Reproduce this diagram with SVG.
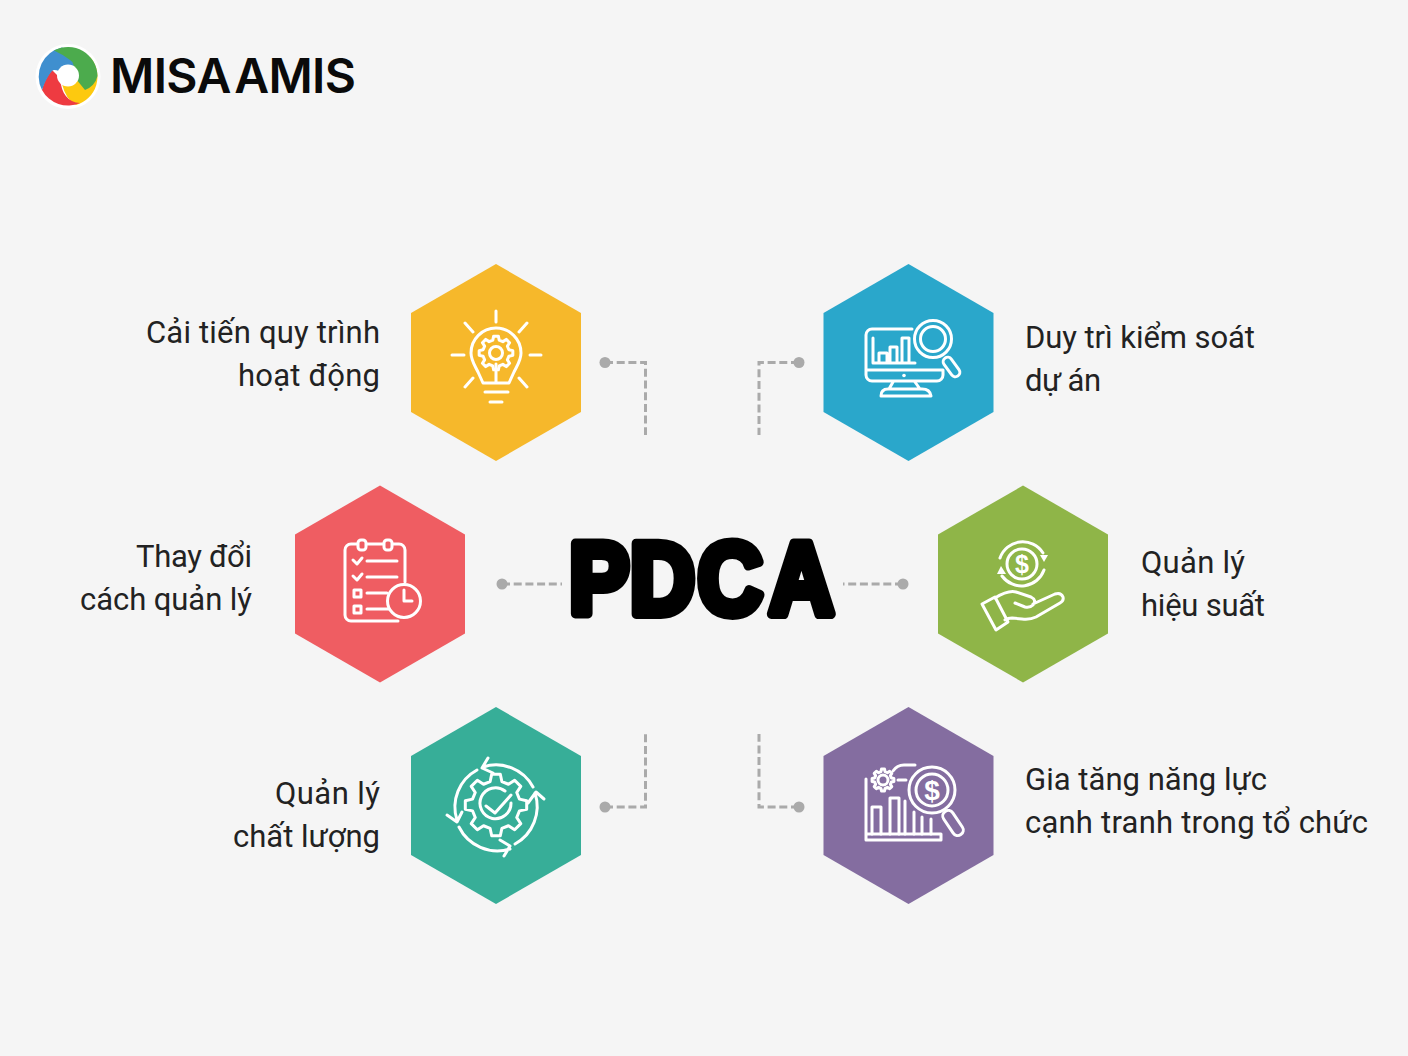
<svg xmlns="http://www.w3.org/2000/svg" width="1408" height="1056" viewBox="0 0 1408 1056">
<style>
.lbl{font-family:"Roboto","Liberation Sans",sans-serif;font-size:31px;fill:#222}
.end{text-anchor:end}
.ic{fill:none;stroke:#fff;stroke-width:3;stroke-linecap:round;stroke-linejoin:round}
.ar{fill:#fff;stroke:none}
.cn{fill:none;stroke:#aaa;stroke-width:3;stroke-dasharray:8 3.7}
.dot{fill:#aaa}
.gear{vector-effect:non-scaling-stroke}
.dollar{font-family:"Liberation Sans",sans-serif;font-weight:700;fill:#fff;text-anchor:middle}
</style>
<defs>
<polygon id="hex" points="0,-98.5 85,-49.5 85,49.5 0,98.5 -85,49.5 -85,-49.5"/>
<path id="gear" class="gear" d="M7.57-1.89L9.9-1.39 9.9 1.39 7.57 1.89 6.69 4.02 7.99 6.02 6.02 7.99 4.02 6.69 1.89 7.57 1.39 9.9-1.39 9.9-1.89 7.57-4.02 6.69-6.02 7.99-7.99 6.02-6.69 4.02-7.57 1.89-9.9 1.39-9.9-1.39-7.57-1.89-6.69-4.02-7.99-6.02-6.02-7.99-4.02-6.69-1.89-7.57-1.39-9.9 1.39-9.9 1.89-7.57 4.02-6.69 6.02-7.99 7.99-6.02 6.69-4.02Z"/>
</defs>
<rect width="1408" height="1056" fill="#f5f5f5"/>

<g id="logo">
<circle cx="68" cy="76.5" r="32.5" fill="#fff"/>
<path fill="#fdc90f" d="M90 57A29.5 29.5 0 0 1 76 105Q66 100 62 84L78 78Q88 70 90 57Z"/>
<path fill="#ee3b41" d="M52 70Q44 80 42 90A29.5 29.5 0 0 0 80 103Q62 102 60 78Z"/>
<path fill="#3f8fcf" d="M42 90A29.5 29.5 0 0 1 62 47.6Q70 50 76 63L66 74Q54 68 52 71Q46 78 42 90Z"/>
<path fill="#4cab4d" d="M54 50.5A29.5 29.5 0 0 1 97.5 76Q95 86 85 90L72 74Q76 63 70 60Q62 54 54 50.5Z"/>
<circle cx="68" cy="75.5" r="11" fill="#fff"/>
<text x="110" y="93" font-family="Inter,'Liberation Sans',sans-serif" font-weight="600" font-size="48" word-spacing="-8" textLength="246" fill="#0a0a0a">MISA AMIS</text>
</g>

<g id="connectors">
<path class="cn" d="M605 362.5H645.5V435"/>
<path class="cn" d="M799 362.5H759V435"/>
<path class="cn" d="M502 584H562"/>
<path class="cn" d="M903 584H843"/>
<path class="cn" d="M605 807H645.5V734"/>
<path class="cn" d="M799 807H759V734"/>
<circle class="dot" cx="605" cy="362.5" r="5.5"/>
<circle class="dot" cx="799" cy="362.5" r="5.5"/>
<circle class="dot" cx="502" cy="584" r="5.5"/>
<circle class="dot" cx="903" cy="584" r="5.5"/>
<circle class="dot" cx="605" cy="807" r="5.5"/>
<circle class="dot" cx="799" cy="807" r="5.5"/>
</g>

<g id="center">
<text transform="scale(.88 1)" y="614" font-family="'Liberation Sans',sans-serif" font-weight="700" font-size="102" fill="#000" stroke="#000" stroke-width="10" stroke-linejoin="round" x="647 716 793 874">PDCA</text>
</g>

<g id="node-improve">
<use href="#hex" x="496" y="362.5" fill="#f6b82b"/>
<g class="ic">
<path d="M496 311V322M452 355H464M530 355H541M465 323L473 332M527 323L519 332M465 387L473 378M527 387L519 378"/>
<path d="M483 383L478 372C474 364 471 360 471 353A25 25 0 0 1 521 353C521 360 518 364 514 372L509 383ZM496 364V383M485 392H508M490 402H502"/>
<use href="#gear" transform="translate(496 353) scale(1.7)"/>
<circle cx="496" cy="353" r="6.5"/>
</g>
<text class="lbl end" x="380" y="343" textLength="234">Cải tiến quy trình</text>
<text class="lbl end" x="380" y="386" textLength="142">hoạt động</text>
</g>

<g id="node-maintain">
<use href="#hex" x="908.5" y="362.5" fill="#2aa7cb"/>
<g class="ic">
<path d="M912 329H872A6 6 0 0 0 866 335V375A6 6 0 0 0 872 381H937A6 6 0 0 0 943 375V370H866"/>
<path d="M873 338V363H915M879 363V353H887V363M890 363V347H897V363M902 363V338H909V363"/>
<path d="M893 382L889 389M915 382L920 389M881 396Q881 389 888 389H922Q930 389 931 396Z"/>
<circle cx="933" cy="339" r="18.5"/><circle cx="933" cy="339" r="12.5"/>
<rect x="-11" y="-4.5" width="22" height="9" rx="4.5" transform="translate(951.5 367) rotate(54)"/>
</g>
<circle cx="904" cy="375.5" r="1.8" fill="#fff"/>
<text class="lbl" x="1025" y="348" textLength="230">Duy trì kiểm soát</text>
<text class="lbl" x="1025" y="391" textLength="76">dự án</text>
</g>

<g id="node-change">
<use href="#hex" x="380" y="584" fill="#ef5d62"/>
<g class="ic">
<path d="M405 582V550A6 6 0 0 0 399 544H351A6 6 0 0 0 345 550V615A6 6 0 0 0 351 621H398"/>
<rect x="358" y="540" width="8" height="10" rx="3" fill="#ef5d62"/>
<rect x="384" y="540" width="8" height="10" rx="3" fill="#ef5d62"/>
<path d="M353 560L357 564L362 558M353 576L357 580L362 574M367 561H397M367 577H397M367 593H387M367 609H390"/>
<rect x="354" y="590" width="7" height="7"/><rect x="354" y="606" width="7" height="7"/>
<circle cx="404" cy="601" r="16.5" fill="#ef5d62"/>
<path d="M404 590V601H412"/>
</g>
<text class="lbl end" x="252" y="567" textLength="116">Thay đổi</text>
<text class="lbl end" x="252" y="610" textLength="172">cách quản lý</text>
</g>

<g id="node-performance">
<use href="#hex" x="1023" y="584" fill="#8fb548"/>
<g class="ic">
<circle cx="1022" cy="564" r="15"/>
<path d="M1000 558A24 24 0 0 1 1043 553M1044 570A24 24 0 0 1 1002 576"/>
<path d="M982 604L995 597L1008 622L996 630Z"/>
<path d="M995 598Q1008 590 1016 592L1031 597Q1037 600 1033 605Q1030 608 1025 607L1015 603M1033 604L1055 594Q1061 592 1063 597Q1064 601 1060 603L1036 617Q1030 620 1022 619L1012 618Q1008 618 1005 620"/>
</g>
<polygon class="ar" points="1040,555 1048,555 1044,562"/>
<polygon class="ar" points="997,574 1006,574 1001,566"/>
<text class="dollar" x="1022" y="573" font-size="25">$</text>
<text class="lbl" x="1141" y="573" textLength="104">Quản lý</text>
<text class="lbl" x="1141" y="616" textLength="124">hiệu suất</text>
</g>

<g id="node-quality">
<use href="#hex" x="496" y="805.5" fill="#37ae98"/>
<g class="ic">
<use href="#gear" transform="translate(496 805) scale(3.1)"/>
<path d="M505 791A15.5 15.5 0 1 0 511 803"/>
<path d="M486 806L495 813L511 795"/>
<path d="M533 787A42 42 0 0 0 483 767M488 758L482 768L493 773"/>
<path d="M477 770A42 42 0 0 0 457 820M447 815L457 822L462 812"/>
<path d="M459 827A43 43 0 0 0 510 849M500 840L510 846L504 856"/>
<path d="M515 844A43 43 0 0 0 535 793M528 803L536 792L544 799"/>
</g>
<text class="lbl end" x="380" y="804" textLength="105">Quản lý</text>
<text class="lbl end" x="380" y="847" textLength="147">chất lượng</text>
</g>

<g id="node-competitive">
<use href="#hex" x="908.5" y="805.5" fill="#846da0"/>
<g class="ic">
<path d="M866 779V840H941V834H866"/>
<path d="M872 834V807H881V834M890 834V798H899V834M905 834V801M914 834V812M922 834V817M931 834V819"/>
<use href="#gear" transform="translate(883 780) scale(1.1)"/>
<circle cx="883" cy="780" r="5"/>
<path d="M893 771Q897 765 904 765H915M898 780H906"/>
<circle cx="932" cy="790" r="23" fill="#846da0"/><circle cx="932" cy="790" r="16"/>
<rect x="-14" y="-5.5" width="28" height="11" rx="5.5" transform="translate(953 823) rotate(56)"/>
</g>
<text class="dollar" x="932" y="800" font-size="28">$</text>
<text class="lbl" x="1025" y="790" textLength="242">Gia tăng năng lực</text>
<text class="lbl" x="1025" y="833" textLength="343">cạnh tranh trong tổ chức</text>
</g>
</svg>
